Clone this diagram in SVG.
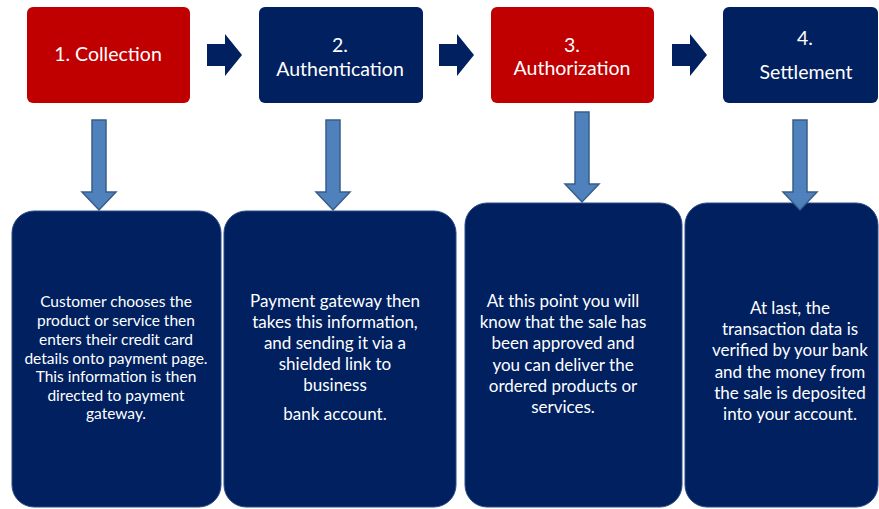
<svg xmlns="http://www.w3.org/2000/svg" width="879" height="509" viewBox="0 0 879 509">
  <defs>
    <style>
      .red { fill: #C00000; }
      .navy { fill: #002060; }
      .panel { fill: #002060; stroke: #2c4a86; stroke-width: 1; }
      .title { font-family: Lato, "Open Sans", sans-serif; font-size: 19.5px; fill: #ffffff; text-anchor: middle; }
      .body { font-family: Lato, "Open Sans", sans-serif; font-size: 15.5px; fill: #ffffff; text-anchor: middle; }
      .body2 { font-family: Lato, "Open Sans", sans-serif; font-size: 17px; fill: #ffffff; text-anchor: middle; }
      .down { fill: #4F81BD; stroke: #385D8A; stroke-width: 1.5; }
      .right { fill: #002060; }
    </style>
    <!-- block arrows drawn with origin at the tip's reference point -->
    <path id="arrowRight" d="M0,-11 H18 V-21 L35,0 L18,21 V11 H0 Z"/>
    <path id="arrowDown" d="M-7,0 H7 V72 H17 L0,90 L-17,72 H-7 Z"/>
  </defs>

  <rect width="879" height="509" fill="#ffffff"/>

  <!-- step headers -->
  <g id="step1">
    <rect class="red" x="27" y="7" width="163" height="96" rx="6"/>
    <text class="title" x="108" y="61">1. Collection</text>
  </g>
  <g id="step2">
    <rect class="navy" x="259" y="7" width="164" height="96" rx="6"/>
    <text class="title" x="340" y="52">2.</text>
    <text class="title" x="340" y="76">Authentication</text>
  </g>
  <g id="step3">
    <rect class="red" x="491" y="7" width="163" height="96" rx="6"/>
    <text class="title" x="572" y="52">3.</text>
    <text class="title" x="572" y="75">Authorization</text>
  </g>
  <g id="step4">
    <rect class="navy" x="723" y="7" width="155" height="96" rx="6"/>
    <text class="title" x="805" y="45">4.</text>
    <text class="title" x="806" y="79">Settlement</text>
  </g>

  <!-- detail panels -->
  <g id="detail1">
    <rect class="panel" x="12" y="211" width="209" height="296" rx="22"/>
    <text class="body" x="116" y="307">Customer chooses the</text>
    <text class="body" x="116" y="326">product or service  then</text>
    <text class="body" x="116" y="345">enters their credit card</text>
    <text class="body" x="116" y="364">details onto payment page.</text>
    <text class="body" x="116" y="382">This information is then</text>
    <text class="body" x="116" y="401">directed to payment</text>
    <text class="body" x="116" y="419">gateway.</text>
  </g>
  <g id="detail2">
    <rect class="panel" x="224" y="211" width="232" height="296" rx="22"/>
    <text class="body2" x="335" y="307">Payment gateway then</text>
    <text class="body2" x="335" y="328">takes this information,</text>
    <text class="body2" x="335" y="349">and sending it via a</text>
    <text class="body2" x="335" y="370">shielded link to</text>
    <text class="body2" x="335" y="391">business</text>
    <text class="body2" x="335" y="420">bank account.</text>
  </g>
  <g id="detail3">
    <rect class="panel" x="465" y="203" width="217" height="304" rx="22"/>
    <text class="body2" x="563" y="307">At this point you will</text>
    <text class="body2" x="563" y="328">know that the sale has</text>
    <text class="body2" x="563" y="349">been approved  and</text>
    <text class="body2" x="563" y="371">you can deliver the</text>
    <text class="body2" x="563" y="392">ordered products  or</text>
    <text class="body2" x="563" y="413">services.</text>
  </g>
  <g id="detail4">
    <rect class="panel" x="685" y="203" width="193" height="304" rx="22"/>
    <text class="body2" x="790" y="314">At last, the</text>
    <text class="body2" x="790" y="335">transaction data is</text>
    <text class="body2" x="790" y="356">verified by your bank</text>
    <text class="body2" x="790" y="378">and the money from</text>
    <text class="body2" x="790" y="399">the sale is deposited</text>
    <text class="body2" x="790" y="420">into your account.</text>
  </g>

  <!-- connectors -->
  <g id="connectors">
    <use href="#arrowRight" class="right" x="207" y="55"/>
    <use href="#arrowRight" class="right" x="439" y="55"/>
    <use href="#arrowRight" class="right" x="672" y="55"/>
    <use href="#arrowDown" class="down" x="99" y="120"/>
    <use href="#arrowDown" class="down" x="333" y="120"/>
    <use href="#arrowDown" class="down" x="582" y="112"/>
    <use href="#arrowDown" class="down" x="800" y="120"/>
  </g>
</svg>
